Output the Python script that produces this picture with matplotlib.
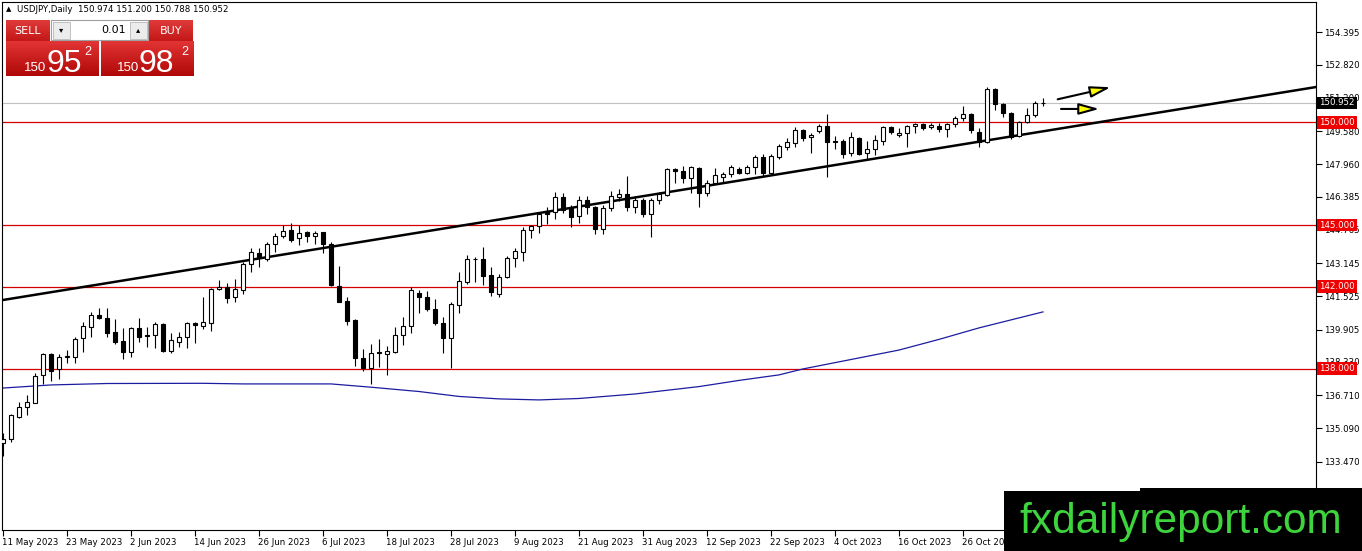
import numpy as np
import matplotlib.pyplot as plt
import matplotlib.transforms as mtransforms
from matplotlib.patches import Rectangle, FancyArrowPatch

W, H = 1362, 551
UI_FONT = ['DejaVu Sans']
FS = 6.2

# daily candles, 11 May 2023 .. 9 Nov 2023
opens = [134.38, 134.57, 135.66, 136.12, 136.35, 137.70, 138.72, 137.97, 138.59, 138.56,
         139.49, 140.05, 140.62, 140.49, 139.81, 139.35, 138.80, 139.97, 139.64, 139.64,
         140.18, 138.88, 139.32, 139.56, 140.24, 140.10, 140.24, 141.87, 141.99, 141.48,
         141.84, 143.11, 143.66, 143.33, 144.08, 144.47, 144.76, 144.36, 144.65, 144.47,
         144.65, 144.08, 142.03, 141.32, 140.38, 138.51, 138.02, 138.80, 138.72, 138.83,
         139.64, 140.08, 141.68, 141.48, 140.93, 140.21, 139.48, 141.11, 142.24, 143.33,
         143.33, 142.57, 141.63, 142.46, 143.38, 143.70, 144.76, 144.96, 145.69, 145.65,
         146.36, 145.82, 145.44, 146.22, 145.87, 144.83, 145.82, 146.39, 146.52, 145.87,
         146.22, 145.54, 146.22, 146.47, 147.72, 147.62, 147.28, 147.77, 146.55, 147.07,
         147.36, 147.49, 147.72, 147.55, 147.82, 148.30, 147.55, 148.30, 148.82, 149.02,
         149.63, 149.28, 149.59, 149.83, 149.11, 149.11, 148.50, 149.23, 148.50, 148.69,
         149.11, 149.77, 149.39, 149.47, 149.83, 149.93, 149.77, 149.83, 149.67, 149.93,
         150.20, 150.41, 149.55, 149.07, 151.62, 150.89, 150.45, 149.34, 150.04, 150.37,
         150.974]
highs = [134.87, 135.80, 136.38, 136.72, 137.80, 138.77, 138.77, 138.72, 138.91, 139.56,
         140.29, 140.75, 140.96, 140.96, 140.42, 139.97, 140.05, 140.46, 140.05, 140.29,
         140.24, 139.73, 139.81, 140.29, 140.29, 141.51, 141.92, 142.30, 142.20, 142.36,
         143.22, 143.87, 143.87, 144.19, 144.63, 145.01, 145.09, 145.01, 144.73, 144.73,
         144.65, 144.19, 143.01, 141.48, 140.40, 138.95, 139.21, 139.43, 139.11, 140.05,
         140.53, 141.99, 141.84, 141.80, 141.39, 140.53, 141.27, 142.73, 143.54, 143.46,
         143.95, 142.97, 142.62, 143.50, 143.87, 144.89, 145.01, 145.60, 145.87, 146.63,
         146.55, 145.98, 146.42, 146.42, 145.93, 145.98, 146.68, 146.75, 147.39, 146.42,
         146.31, 146.31, 146.63, 147.77, 147.77, 147.88, 147.88, 147.82, 147.20, 147.77,
         147.60, 147.93, 147.82, 147.93, 148.42, 148.47, 148.47, 148.95, 149.23, 149.77,
         149.67, 149.50, 149.93, 150.41, 149.34, 149.18, 149.55, 149.28, 149.11, 149.39,
         149.83, 149.83, 149.72, 149.88, 149.99, 149.99, 149.99, 149.99, 149.99, 150.32,
         150.80, 150.45, 149.72, 151.75, 151.67, 150.97, 150.53, 150.09, 150.69, 151.06,
         151.200]
lows = [133.75, 134.43, 135.60, 135.75, 136.33, 137.26, 137.40, 137.50, 138.28, 138.28,
        138.83, 139.53, 140.40, 139.56, 139.21, 138.46, 138.59, 139.32, 139.08, 138.99,
        138.83, 138.78, 139.08, 138.99, 139.27, 139.92, 139.86, 141.84, 141.20, 141.27,
        141.64, 142.73, 142.94, 143.27, 143.71, 144.36, 144.19, 144.03, 144.19, 144.08,
        143.63, 142.03, 141.25, 140.13, 138.13, 137.91, 137.26, 138.07, 137.68, 138.78,
        139.16, 139.76, 140.73, 140.83, 140.13, 138.78, 138.02, 140.70, 142.13, 142.24,
        142.08, 141.56, 141.51, 142.41, 142.97, 143.27, 144.36, 144.60, 145.06, 145.28,
        145.60, 144.92, 145.12, 145.54, 144.57, 144.57, 145.70, 146.19, 145.70, 145.58,
        145.38, 144.44, 146.03, 146.42, 147.04, 147.04, 146.58, 145.90, 146.42, 147.00,
        147.07, 147.36, 147.49, 147.49, 147.49, 147.39, 147.49, 148.21, 148.66, 148.82,
        149.11, 148.53, 149.47, 147.33, 148.69, 148.26, 148.37, 148.42, 148.17, 148.42,
        148.90, 149.44, 149.31, 148.79, 149.47, 149.63, 149.67, 149.55, 149.31, 149.80,
        150.09, 149.47, 148.79, 149.02, 150.61, 150.28, 149.18, 149.31, 149.99, 150.28,
        150.788]
closes = [134.57, 135.75, 136.12, 136.37, 137.66, 138.72, 137.91, 138.59, 138.62, 139.47,
          140.08, 140.62, 140.46, 139.76, 139.30, 138.80, 139.97, 139.56, 139.60, 140.18,
          138.88, 139.40, 139.56, 140.21, 140.15, 140.26, 141.89, 141.99, 141.43, 141.89,
          143.11, 143.71, 143.46, 144.08, 144.47, 144.73, 144.27, 144.63, 144.47, 144.63,
          144.07, 142.08, 141.27, 140.34, 138.51, 138.02, 138.78, 138.75, 138.87, 139.64,
          140.08, 141.84, 141.48, 140.90, 140.21, 139.48, 141.16, 142.28, 143.33, 143.36,
          142.54, 141.73, 142.46, 143.38, 143.75, 144.76, 144.96, 145.55, 145.53, 146.36,
          145.74, 145.38, 146.22, 145.87, 144.83, 145.82, 146.42, 146.52, 145.87, 146.22,
          145.53, 146.22, 146.52, 147.72, 147.62, 147.28, 147.82, 146.55, 147.07, 147.44,
          147.49, 147.82, 147.55, 147.82, 148.30, 147.55, 148.37, 148.86, 149.06, 149.63,
          149.26, 149.39, 149.83, 149.04, 149.05, 148.47, 149.28, 148.47, 148.69, 149.15,
          149.77, 149.55, 149.50, 149.83, 149.93, 149.72, 149.88, 149.67, 149.93, 150.20,
          150.41, 149.63, 149.07, 151.62, 150.89, 150.45, 149.28, 150.04, 150.37, 150.97,
          150.952]

# moving average (blue line), sampled at bar indices
ma_bars = [0, 6, 13, 25, 30, 41, 46, 52, 57, 62, 67, 72, 79, 87, 92, 97, 100, 106, 112, 117, 122, 130]
ma_vals = [137.06, 137.21, 137.28, 137.29, 137.26, 137.26, 137.10, 136.89, 136.65, 136.53, 136.48,
           136.55, 136.77, 137.13, 137.43, 137.70, 137.99, 138.45, 138.91, 139.43, 139.99, 140.77]

levels = [150.0, 145.0, 142.0, 138.0]
bid = 150.952
trend_bars = [0, 130]
trend_vals = [141.35, 149.57]

date_bars = list(range(0, 121, 8))
date_labels = ['11 May 2023', '23 May 2023', '2 Jun 2023', '14 Jun 2023', '26 Jun 2023',
               '6 Jul 2023', '18 Jul 2023', '28 Jul 2023', '9 Aug 2023', '21 Aug 2023',
               '31 Aug 2023', '12 Sep 2023', '22 Sep 2023', '4 Oct 2023', '16 Oct 2023',
               '26 Oct 2023']
price_ticks = [154.395, 152.820, 151.200, 149.580, 147.960, 146.385, 144.765, 143.145,
               141.525, 139.905, 138.330, 136.710, 135.090, 133.470, 131.850]

# arrows drawn by hand on the chart: (bar, price) -> (bar, price)
arrow_up = ((131.5, 151.10), (138.8, 151.75))
arrow_flat = ((131.9, 150.66), (137.4, 150.66))

fig = plt.figure(figsize=(W / 100, H / 100), dpi=100)
fig.patch.set_facecolor('white')
ax = fig.add_axes([2 / W, (H - 530) / H, 1314 / W, 528 / H])
ax.set_xlim(-0.125, 164.125)
ax.set_ylim(130.141, 155.872)

x = np.arange(len(opens))
o = np.array(opens)
c = np.array(closes)
up = c >= o

# levels and trendline
for lv in levels:
    ax.axhline(lv, color='#d40000', lw=0.9, zorder=1)
ax.axhline(bid, color='#c0c0c0', lw=0.8, zorder=1)
slope = (trend_vals[1] - trend_vals[0]) / (trend_bars[1] - trend_bars[0])
ax.axline((trend_bars[0], trend_vals[0]), slope=slope, color='black', lw=1.8, zorder=4)
ax.plot(ma_bars, ma_vals, color='#1c1ca0', lw=0.9, zorder=2)

# candles
ax.vlines(x, lows, highs, color='black', lw=0.8, zorder=3)
body_lo = np.minimum(o, c)
body_h = np.abs(c - o)
ax.bar(x[up], body_h[up], bottom=body_lo[up], width=0.5, color='white',
       edgecolor='black', linewidth=0.8, zorder=5)
ax.bar(x[~up], body_h[~up], bottom=body_lo[~up], width=0.5, color='black',
       edgecolor='black', linewidth=0.8, zorder=5)

for (p0, p1) in (arrow_up, arrow_flat):
    ax.add_patch(FancyArrowPatch(p0, p1, arrowstyle='-|>,head_length=0.62,head_width=0.17',
                                 mutation_scale=20, facecolor='#ffff00', edgecolor='black',
                                 lw=1.5, zorder=6))

# axes styling
for s in ax.spines.values():
    s.set_linewidth(0.8)
    s.set_color('black')
ax.yaxis.tick_right()
ax.set_yticks(price_ticks)
ax.set_yticklabels(['%.3f' % v for v in price_ticks])
ax.set_xticks(date_bars)
ax.set_xticklabels(date_labels, ha='left')
ax.tick_params(axis='y', direction='out', length=4, pad=2, labelsize=FS, width=0.8)
ax.tick_params(axis='x', direction='out', length=4, pad=1.5, labelsize=FS, width=0.8)
for t in ax.get_xticklabels() + ax.get_yticklabels():
    t.set_family(UI_FONT)
for t in ax.get_xticklabels():
    t.set_transform(t.get_transform() + mtransforms.ScaledTranslation(-1 / 100, 0, fig.dpi_scale_trans))

# price boxes on the right scale
bt = mtransforms.blended_transform_factory(ax.transAxes, ax.transData)
for lv in levels:
    ax.text(1.0024, lv, '%.3f' % lv, transform=bt, ha='left', va='center', fontsize=FS,
            family=UI_FONT, color='white', zorder=10, clip_on=False,
            bbox=dict(boxstyle='square,pad=0.22', fc='#ee0000', ec='none'))
ax.text(1.0024, bid, '%.3f' % bid, transform=bt, ha='left', va='center', fontsize=FS,
        family=UI_FONT, color='white', zorder=10, clip_on=False,
        bbox=dict(boxstyle='square,pad=0.22', fc='black', ec='none'))

# overlay in pixel units: header, trade panel, logo
ui = fig.add_axes([0, 0, 1, 1])
ui.set_xlim(0, W)
ui.set_ylim(H, 0)
ui.axis('off')

ui.text(6, 9, '\u25b2', fontsize=5, va='center', ha='left', family=UI_FONT)
ui.text(17, 9, 'USDJPY,Daily  %.3f %.3f %.3f %.3f' % (opens[-1], highs[-1], lows[-1], closes[-1]),
        fontsize=FS, va='center', ha='left', family=UI_FONT)


def red_box(x0, y0, x1, y1, top='#e23434', bottom='#b00808'):
    ct = np.array([int(top[i:i + 2], 16) for i in (1, 3, 5)]) / 255
    cb = np.array([int(bottom[i:i + 2], 16) for i in (1, 3, 5)]) / 255
    g = np.linspace(0, 1, 32)[:, None, None]
    img = ct * (1 - g) + cb * g
    ui.imshow(img, extent=(x0, x1, y1, y0), aspect='auto', zorder=2, interpolation='bilinear')


red_box(6, 20, 50, 41, '#e03a3a', '#c41818')
red_box(149, 20, 193, 41, '#e03a3a', '#c41818')
red_box(6, 41, 98.5, 76)
red_box(100.5, 41, 193, 76)
ui.add_patch(Rectangle((51, 20), 97, 20, fc='white', ec='#a0a0a0', lw=0.8, zorder=2))
for bx in (53, 130):
    ui.add_patch(Rectangle((bx, 21.5), 17, 17, fc='#ececec', ec='#b8b8b8', lw=0.6, zorder=3))
ui.text(61.5, 30, '\u25be', fontsize=6, ha='center', va='center', family=UI_FONT, zorder=4)
ui.text(138.5, 30, '\u25b4', fontsize=6, ha='center', va='center', family=UI_FONT, zorder=4)
ui.text(126, 30, '0.01', fontsize=8, ha='right', va='center', family=UI_FONT, zorder=4)
ui.text(28, 30.5, 'SELL', fontsize=8, ha='center', va='center', color='white', family=UI_FONT, zorder=4)
ui.text(171, 30.5, 'BUY', fontsize=8, ha='center', va='center', color='white', family=UI_FONT, zorder=4)
for (x150, xbig, xsup, big) in ((24, 46, 84, '95'), (117, 139, 181, '98')):
    ui.text(x150, 71, '150', fontsize=9.5, ha='left', va='baseline', color='white',
            family='Liberation Sans', zorder=4)
    ui.text(xbig, 72, big, fontsize=23, ha='left', va='baseline', color='white',
            family='Liberation Sans', zorder=4)
    ui.text(xsup, 55, '2', fontsize=9, ha='left', va='baseline', color='white',
            family='Liberation Sans', zorder=4)

# logo
ui.add_patch(Rectangle((1004, 490.5), W - 1004, H - 490.5, fc='black', ec='none', zorder=5))
ui.add_patch(Rectangle((1140, 488), W - 1140, H - 488, fc='black', ec='none', zorder=5))
ui.text(1019, 533, 'fxdailyreport.com', fontsize=30.5, color='#3ed43e', ha='left',
        va='baseline', family='Liberation Sans', zorder=6)

fig.savefig('out.png', dpi=100)
